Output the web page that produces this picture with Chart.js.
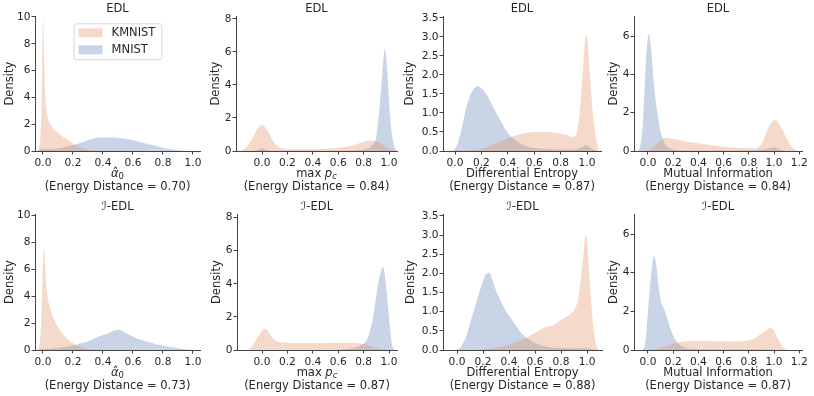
<!DOCTYPE html>
<html>
<head>
<meta charset="utf-8">
<script src="https://cdn.jsdelivr.net/npm/chart.js@4"></script>
<style>
  body { margin: 0; background: #fff; }
  #wrap { position: relative; width: 814px; height: 396px; }
  #wrap canvas { position: absolute; }
</style>
</head>
<body>
<div id="wrap"></div>
<script>
// ---- data (x positions + KDE density) ----
var seriesNames = ["KMNIST", "MNIST"];
var panelTitles = ["EDL", "EDL", "EDL", "EDL", "ℐ-EDL", "ℐ-EDL", "ℐ-EDL", "ℐ-EDL"];
var energyDist = ["0.70", "0.84", "0.87", "0.84", "0.73", "0.87", "0.88", "0.87"];

var ticksUnit = [0, 0.2, 0.4, 0.6, 0.8, 1.0];
var ticksMI = [0, 0.2, 0.4, 0.6, 0.8, 1.0, 1.2];
var yTicksAlpha = [0, 2, 4, 6, 8, 10];
var yTicksMax = [0, 2, 4, 6, 8];
var yTicksDE = [0, 0.5, 1.0, 1.5, 2.0, 2.5, 3.0, 3.5];
var yTicksMI = [0, 2, 4, 6];

// EDL, alpha_0
var p1kX = [-0.04, -0.025, -0.012, -0.004, 0.002, 0.008, 0.015, 0.025, 0.04, 0.06, 0.08, 0.1, 0.12, 0.15, 0.18, 0.21, 0.25, 0.3, 0.35, 0.45, 0.6];
var p1kY = [0, 0.3, 2.5, 7.5, 10.0, 7.2, 4.2, 2.9, 2.2, 1.8, 1.55, 1.35, 1.15, 0.95, 0.7, 0.45, 0.25, 0.1, 0.04, 0.01, 0];
var p1mX = [-0.04, -0.02, 0.0, 0.03, 0.07, 0.12, 0.17, 0.22, 0.27, 0.32, 0.38, 0.45, 0.52, 0.6, 0.67, 0.74, 0.8, 0.86, 0.92, 0.97, 1.02];
var p1mY = [0, 0.1, 0.15, 0.14, 0.15, 0.22, 0.35, 0.5, 0.68, 0.88, 1.0, 1.0, 0.95, 0.82, 0.6, 0.42, 0.25, 0.12, 0.04, 0.01, 0];

// EDL, max p_c
var p2kX = [-0.2, -0.16, -0.12, -0.08, -0.04, 0.0, 0.04, 0.08, 0.12, 0.16, 0.2, 0.3, 0.4, 0.5, 0.6, 0.7, 0.78, 0.84, 0.88, 0.92, 0.96, 1.0, 1.04, 1.06];
var p2kY = [0, 0.05, 0.25, 0.7, 1.3, 1.58, 1.3, 0.7, 0.3, 0.15, 0.11, 0.1, 0.11, 0.14, 0.2, 0.3, 0.5, 0.63, 0.62, 0.5, 0.33, 0.15, 0.04, 0];
var p2mX = [-0.06, -0.03, 0.0, 0.03, 0.06, 0.1, 0.3, 0.6, 0.75, 0.82, 0.87, 0.9, 0.93, 0.95, 0.968, 0.985, 1.0, 1.02, 1.04, 1.06];
var p2mY = [0, 0.08, 0.16, 0.08, 0.02, 0.01, 0.01, 0.02, 0.05, 0.12, 0.4, 0.9, 3.0, 5.0, 6.2, 5.0, 3.0, 1.2, 0.3, 0];

// EDL, differential entropy
var p3kX = [-0.05, 0.0, 0.1, 0.2, 0.3, 0.4, 0.5, 0.55, 0.6, 0.65, 0.7, 0.75, 0.8, 0.85, 0.89, 0.92, 0.95, 0.97, 0.985, 0.995, 1.005, 1.02, 1.035, 1.05, 1.07, 1.09];
var p3kY = [0, 0.01, 0.02, 0.06, 0.18, 0.34, 0.45, 0.48, 0.5, 0.5, 0.5, 0.48, 0.46, 0.42, 0.37, 0.45, 1.2, 2.2, 2.9, 3.02, 2.9, 2.1, 1.4, 0.8, 0.3, 0];
var p3mX = [-0.02, 0.0, 0.03, 0.06, 0.09, 0.12, 0.15, 0.17, 0.2, 0.24, 0.28, 0.32, 0.36, 0.4, 0.45, 0.5, 0.55, 0.6, 0.7, 0.8, 0.9, 0.95, 0.98, 1.0, 1.02, 1.05, 1.08];
var p3mY = [0, 0.05, 0.3, 0.75, 1.2, 1.5, 1.66, 1.7, 1.65, 1.48, 1.22, 0.95, 0.7, 0.47, 0.3, 0.18, 0.12, 0.08, 0.05, 0.04, 0.04, 0.08, 0.14, 0.15, 0.1, 0.03, 0];

// EDL, mutual information
var p4kX = [-0.06, 0.0, 0.05, 0.1, 0.135, 0.17, 0.22, 0.3, 0.4, 0.5, 0.6, 0.7, 0.8, 0.86, 0.9, 0.93, 0.97, 1.01, 1.05, 1.09, 1.13, 1.17, 1.2];
var p4kY = [0, 0.05, 0.25, 0.55, 0.68, 0.66, 0.6, 0.5, 0.4, 0.3, 0.22, 0.17, 0.14, 0.15, 0.35, 0.8, 1.4, 1.62, 1.3, 0.8, 0.3, 0.06, 0];
var p4mX = [-0.08, -0.06, -0.04, -0.025, -0.01, 0.008, 0.025, 0.04, 0.06, 0.08, 0.1, 0.13, 0.16, 0.2, 0.3, 0.5, 0.8, 0.9, 0.95, 0.98, 1.0, 1.02, 1.05, 1.08];
var p4mY = [0, 0.3, 1.5, 3.5, 5.3, 6.1, 5.3, 4.0, 2.7, 1.8, 1.0, 0.45, 0.2, 0.08, 0.03, 0.02, 0.03, 0.06, 0.12, 0.17, 0.18, 0.15, 0.06, 0];

// I-EDL, alpha_0
var p5kX = [-0.04, -0.025, -0.012, -0.003, 0.006, 0.014, 0.022, 0.03, 0.047, 0.065, 0.09, 0.11, 0.135, 0.165, 0.2, 0.25, 0.3, 0.35, 0.45, 0.6];
var p5kY = [0, 0.3, 2.0, 5.5, 7.6, 6.3, 4.8, 4.0, 3.1, 2.5, 1.9, 1.5, 1.15, 0.8, 0.5, 0.22, 0.1, 0.04, 0.01, 0];
var p5mX = [-0.04, -0.02, 0.0, 0.05, 0.1, 0.15, 0.2, 0.25, 0.3, 0.35, 0.38, 0.42, 0.46, 0.5, 0.53, 0.57, 0.62, 0.67, 0.73, 0.78, 0.85, 0.91, 0.96, 1.0, 1.04];
var p5mY = [0, 0.05, 0.08, 0.1, 0.14, 0.22, 0.33, 0.48, 0.65, 0.9, 1.05, 1.18, 1.38, 1.5, 1.42, 1.15, 0.9, 0.7, 0.5, 0.37, 0.22, 0.12, 0.05, 0.02, 0];

// I-EDL, max p_c
var p6kX = [-0.12, -0.09, -0.06, -0.03, 0.0, 0.024, 0.05, 0.08, 0.11, 0.15, 0.2, 0.3, 0.4, 0.5, 0.6, 0.7, 0.75, 0.8, 0.85, 0.9, 0.95, 1.0];
var p6kY = [0, 0.12, 0.45, 0.85, 1.15, 1.28, 1.1, 0.75, 0.55, 0.46, 0.43, 0.42, 0.42, 0.43, 0.44, 0.44, 0.42, 0.36, 0.24, 0.12, 0.04, 0];
var p6mX = [0.55, 0.65, 0.72, 0.78, 0.83, 0.87, 0.9, 0.93, 0.955, 0.975, 1.0, 1.02, 1.04];
var p6mY = [0, 0.04, 0.12, 0.3, 0.7, 1.8, 3.3, 4.6, 5.0, 4.0, 2.0, 0.5, 0];

// I-EDL, differential entropy
var p7kX = [0.1, 0.2, 0.3, 0.4, 0.45, 0.5, 0.55, 0.6, 0.65, 0.7, 0.74, 0.78, 0.82, 0.86, 0.9, 0.93, 0.95, 0.97, 0.99, 1.005, 1.02, 1.04, 1.06, 1.08, 1.09];
var p7kY = [0, 0.02, 0.06, 0.14, 0.2, 0.27, 0.36, 0.45, 0.55, 0.62, 0.64, 0.75, 0.83, 0.9, 1.05, 1.3, 1.8, 2.4, 3.0, 2.6, 1.8, 0.9, 0.3, 0.05, 0];
var p7mX = [-0.01, 0.03, 0.07, 0.1, 0.14, 0.18, 0.21, 0.245, 0.27, 0.3, 0.34, 0.38, 0.42, 0.46, 0.5, 0.55, 0.6, 0.65, 0.7, 0.8, 0.9, 0.98, 1.03, 1.07];
var p7mY = [0, 0.08, 0.35, 0.7, 1.15, 1.6, 1.9, 2.02, 1.85, 1.55, 1.25, 1.0, 0.8, 0.6, 0.42, 0.28, 0.18, 0.12, 0.08, 0.05, 0.04, 0.05, 0.03, 0];

// I-EDL, mutual information
var p8kX = [-0.02, 0.05, 0.1, 0.15, 0.2, 0.25, 0.3, 0.35, 0.4, 0.5, 0.6, 0.7, 0.75, 0.8, 0.85, 0.9, 0.94, 0.97, 1.0, 1.03, 1.06, 1.09, 1.11];
var p8kY = [0, 0.05, 0.12, 0.22, 0.32, 0.4, 0.44, 0.46, 0.46, 0.46, 0.44, 0.44, 0.45, 0.5, 0.62, 0.85, 1.02, 1.14, 1.0, 0.6, 0.25, 0.05, 0];
var p8mX = [-0.04, -0.02, 0.0, 0.02, 0.035, 0.048, 0.065, 0.08, 0.1, 0.135, 0.16, 0.19, 0.225, 0.27, 0.32, 0.4, 0.6, 0.9, 1.1];
var p8mY = [0, 0.4, 2.0, 3.6, 4.5, 4.85, 4.4, 3.5, 2.6, 2.0, 1.5, 0.9, 0.45, 0.2, 0.08, 0.04, 0.02, 0.02, 0];

// x-axis labels: [text, italic, subscript]
var labAlpha = [["α\u0302", true, false], ["0", false, true]];
var labMax = [["max ", false, false], ["p", true, false], ["c", true, true]];
var labDE = [["Differential Entropy", false, false]];
var labMI = [["Mutual Information", false, false]];

// ---- layout (canvas placement + axis ranges) ----
var panels = [
  {kx: p1kX, ky: p1kY, mx: p1mX, my: p1mY, xt: ticksUnit, yt: yTicksAlpha, lab: labAlpha, xr: [-0.053, 1.047], ymax: 10.05, left: 3, top: 0, w: 207, yw: 32, xh: 47, legend: true},
  {kx: p2kX, ky: p2kY, mx: p2mX, my: p2mY, xt: ticksUnit, yt: yTicksMax, lab: labMax, xr: [-0.205, 1.063], ymax: 8.16, left: 209, top: 0, w: 198, yw: 27, xh: 47},
  {kx: p3kX, ky: p3kY, mx: p3mX, my: p3mY, xt: ticksUnit, yt: yTicksDE, lab: labDE, xr: [-0.091, 1.106], ymax: 3.54, left: 403, top: 0, w: 208, yw: 40, xh: 47, dec: true},
  {kx: p4kX, ky: p4kY, mx: p4mX, my: p4mY, xt: ticksMI, yt: yTicksMI, lab: labMI, xr: [-0.111, 1.222], ymax: 7.03, left: 607, top: 0, w: 205, yw: 27, xh: 47},
  {kx: p5kX, ky: p5kY, mx: p5mX, my: p5mY, xt: ticksUnit, yt: yTicksAlpha, lab: labAlpha, xr: [-0.053, 1.047], ymax: 10.1, left: 3, top: 198, w: 207, yw: 32, xh: 46},
  {kx: p6kX, ky: p6kY, mx: p6mX, my: p6mY, xt: ticksUnit, yt: yTicksMax, lab: labMax, xr: [-0.197, 1.063], ymax: 8.2, left: 210, top: 198, w: 197, yw: 27, xh: 46},
  {kx: p7kX, ky: p7kY, mx: p7mX, my: p7mY, xt: ticksUnit, yt: yTicksDE, lab: labDE, xr: [-0.108, 1.115], ymax: 3.54, left: 404, top: 198, w: 208, yw: 39, xh: 46, dec: true},
  {kx: p8kX, ky: p8kY, mx: p8mX, my: p8mY, xt: ticksMI, yt: yTicksMI, lab: labMI, xr: [-0.111, 1.222], ymax: 7.02, left: 607, top: 198, w: 205, yw: 27, xh: 46}
];

var textColor = "#262626";
var axisColor = "#444444";
var kmnistFill = "rgba(221, 132, 82, 0.3)";
var mnistFill = "rgba(76, 114, 176, 0.3)";
var FONT = "'DejaVu Sans', sans-serif";

Chart.defaults.font.family = FONT;
Chart.defaults.color = textColor;

// two-line x label under each panel
var xlabPlugin = {
  id: "xlab",
  afterDraw: function(chart, args, opts) {
    var ctx = chart.ctx, a = chart.chartArea;
    var cx = (a.left + a.right) / 2;
    ctx.save();
    ctx.fillStyle = textColor;
    ctx.textBaseline = "middle";
    ctx.textAlign = "left";
    var fonts = opts.parts.map(function(p) {
      return (p[1] ? "italic " : "") + (p[2] ? "8.5px " : "11.5px ") + FONT;
    });
    var w = 0;
    opts.parts.forEach(function(p, i) { ctx.font = fonts[i]; w += ctx.measureText(p[0]).width; });
    var x = cx - w / 2, y1 = a.bottom + 23;
    opts.parts.forEach(function(p, i) {
      ctx.font = fonts[i];
      ctx.fillText(p[0], x, y1 + (p[2] ? 3 : 0));
      x += ctx.measureText(p[0]).width;
    });
    ctx.font = "11.5px " + FONT;
    ctx.textAlign = "center";
    ctx.fillText("(Energy Distance = " + opts.dist + ")", cx, a.bottom + 36);
    ctx.restore();
  }
};

// matplotlib style legend box inside the first panel
var legendBoxPlugin = {
  id: "legendBox",
  afterDraw: function(chart, args, opts) {
    if (!opts.show) return;
    var ctx = chart.ctx, a = chart.chartArea;
    var ds = chart.data.datasets;
    ctx.save();
    ctx.font = "11.5px " + FONT;
    var tw = Math.max.apply(null, ds.map(function(d) { return ctx.measureText(d.label).width; }));
    var w = 5 + 24 + 9 + tw + 6, h = 36;
    var x0 = (a.left + a.right) / 2 - w / 2, y0 = a.top + 7;
    ctx.fillStyle = "rgba(255,255,255,0.8)";
    ctx.strokeStyle = "#d6d6d6";
    ctx.lineWidth = 1;
    ctx.beginPath();
    ctx.roundRect(x0 + 0.5, y0 + 0.5, w, h, 2.5);
    ctx.fill();
    ctx.stroke();
    ds.forEach(function(d, i) {
      var yy = y0 + 9.5 + i * 17;
      ctx.fillStyle = d.backgroundColor;
      ctx.fillRect(x0 + 5, yy - 4.5, 24, 9);
      ctx.fillStyle = textColor;
      ctx.textBaseline = "middle";
      ctx.fillText(d.label, x0 + 38, yy);
    });
    ctx.restore();
  }
};

function pts(xs, ys) {
  return xs.map(function(x, i) { return {x: x, y: ys[i]}; });
}

function fixedTicks(vals) {
  return function(scale) { scale.ticks = vals.map(function(v) { return {value: v}; }); };
}

var wrap = document.getElementById("wrap");

panels.forEach(function(p, idx) {
  var cv = document.createElement("canvas");
  cv.width = p.w;
  cv.height = 198;
  cv.style.left = p.left + "px";
  cv.style.top = p.top + "px";
  wrap.appendChild(cv);

  var area = {
    fill: "origin",
    pointRadius: 0,
    borderWidth: 0,
    borderColor: "rgba(0,0,0,0)",
    cubicInterpolationMode: "monotone"
  };

  new Chart(cv, {
    type: "line",
    data: {
      datasets: [
        Object.assign({label: seriesNames[0], data: pts(p.kx, p.ky), backgroundColor: kmnistFill}, area),
        Object.assign({label: seriesNames[1], data: pts(p.mx, p.my), backgroundColor: mnistFill}, area)
      ]
    },
    plugins: [xlabPlugin, legendBoxPlugin],
    options: {
      responsive: false,
      animation: false,
      devicePixelRatio: 1,
      layout: {padding: {left: 0, top: 0, right: 10, bottom: 0}},
      plugins: {
        legend: {display: false},
        tooltip: {enabled: false},
        title: {
          display: true,
          text: panelTitles[idx],
          fullSize: false,
          color: textColor,
          font: {size: 11.5, weight: "normal", lineHeight: 1.2},
          padding: {top: 2.5, bottom: 0}
        },
        xlab: {parts: p.lab, dist: energyDist[idx]},
        legendBox: {show: !!p.legend}
      },
      scales: {
        x: {
          type: "linear",
          min: p.xr[0],
          max: p.xr[1],
          afterBuildTicks: fixedTicks(p.xt),
          afterFit: function(s) { s.height = p.xh; },
          grid: {display: true, drawOnChartArea: false, drawTicks: true, tickLength: 3.5, color: axisColor},
          border: {display: true, color: axisColor, width: 1},
          ticks: {
            autoSkip: false, maxRotation: 0, padding: 2, color: textColor,
            font: {size: 10.6},
            callback: function(v) { return Number(v).toFixed(1); }
          }
        },
        y: {
          min: 0,
          max: p.ymax,
          afterBuildTicks: fixedTicks(p.yt),
          afterFit: function(s) { s.width = p.yw; },
          grid: {display: true, drawOnChartArea: false, drawTicks: true, tickLength: 3.5, color: axisColor},
          border: {display: true, color: axisColor, width: 1},
          title: {display: true, text: "Density", color: textColor, font: {size: 11.5, lineHeight: 1.2}, padding: 0},
          ticks: {
            autoSkip: false, padding: 1, color: textColor,
            font: {size: 10.6},
            callback: function(v) { return p.dec ? Number(v).toFixed(1) : String(v); }
          }
        }
      }
    }
  });
});
</script>
</body>
</html>
